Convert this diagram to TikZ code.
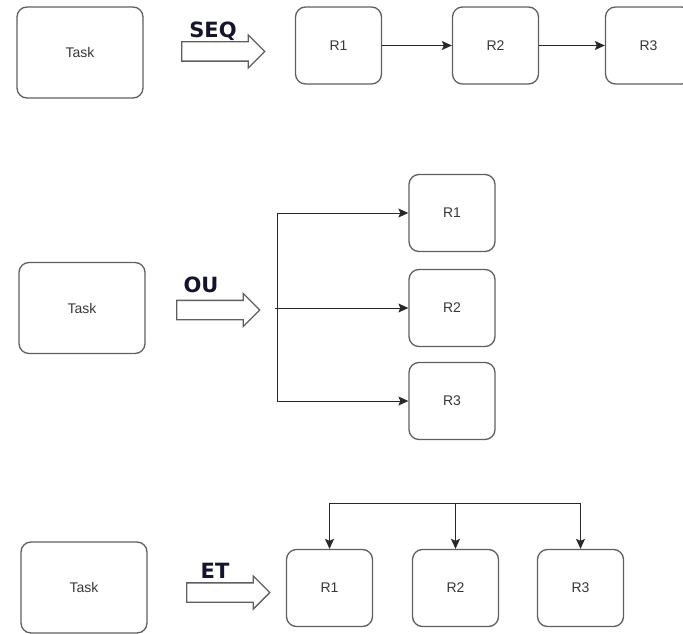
\documentclass[tikz,border=0pt]{standalone}
\usepackage{fontspec}
\setmainfont{Liberation Sans}
\newfontfamily\labelfont{DejaVu Sans}
\usetikzlibrary{arrows.meta,positioning,shapes.arrows}
\definecolor{boxgray}{RGB}{95,95,95}
\definecolor{labelnavy}{RGB}{20,20,45}
\definecolor{linegray}{RGB}{40,40,40}
\definecolor{textgray}{RGB}{55,55,55}

\begin{document}
\begin{tikzpicture}[x=1pt,y=-1pt,font=\fontsize{14}{16}\selectfont,text=textgray,>={Stealth[length=10pt,width=9pt,inset=2pt]},
  task/.style={draw=boxgray, line width=1.3pt, rounded corners=10pt, minimum width=126pt, minimum height=91pt},
  res/.style={draw=boxgray, line width=1.3pt, rounded corners=10pt, minimum width=86pt, minimum height=77pt},
  blockarrow/.style={single arrow, draw=boxgray, fill=white, line width=1.3pt, inner xsep=0pt, inner ysep=9pt, single arrow head extend=7pt, minimum height=83pt},
  kind/.style={font=\labelfont\bfseries\fontsize{21}{23}\selectfont, text=labelnavy},
  conn/.style={->, draw=linegray, line width=1pt}]
\useasboundingbox (0,0) rectangle (683,634);
% sequence
\node[task] (task1) at (80,52.5) {Task};
\node[blockarrow] (seqarrow) at (218.5,51.5) {};
\node[kind] (seq) at (213,31) {SEQ};
\node[res] (r1a) at (338.5,45.5) {R1};
\node[res] (r2a) at (495.5,45.5) {R2};
\node[res] (r3a) at (648.5,45.5) {R3};
\draw[conn] (r1a) -- (r2a);\draw[conn] (r2a) -- (r3a);
% or
\node[task] (task2) at (82,308) {Task};
\node[blockarrow] (ouarrow) at (213.5,310) {};
\node[kind] (ou) at (201,285) {OU};
\node[res] (r1b) at (452,213) {R1};
\node[res] (r2b) at (452,308) {R2};
\node[res] (r3b) at (452,401) {R3};
\coordinate (trunk) at (277,308);
\coordinate (fork) at (275,308);
\draw[draw=linegray, line width=1pt] (r1b -| trunk) -- (r3b -| trunk);
\draw[conn] (r1b -| trunk) -- (r1b);\draw[conn] (fork) -- (r2b);\draw[conn] (r3b -| trunk) -- (r3b);
% and
\node[task] (task3) at (84,587.5) {Task};
\node[blockarrow] (etarrow) at (223.5,592.5) {};
\node[kind] (et) at (215,571) {ET};
\node[res] (r1c) at (329.5,588) {R1};
\node[res] (r2c) at (455.5,588) {R2};
\node[res] (r3c) at (580.5,588) {R3};
\coordinate (bus) at (0,503);
\draw[draw=linegray, line width=1pt] (r1c |- bus) -- (r3c |- bus);
\draw[conn] (r1c |- bus) -- (r1c);\draw[conn] (r2c |- bus) -- (r2c);\draw[conn] (r3c |- bus) -- (r3c);
\end{tikzpicture}
\end{document}
